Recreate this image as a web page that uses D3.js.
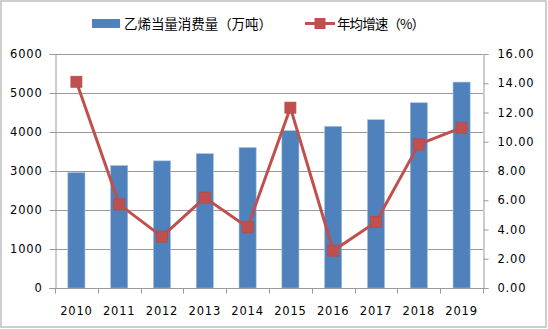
<!DOCTYPE html>
<html>
<head>
<meta charset="utf-8">
<script src="https://cdn.jsdelivr.net/npm/d3@7/dist/d3.min.js"></script>
<style>
  html, body { margin: 0; padding: 0; background: #fff; }
  svg { display: block; }
  text { font-family: "DejaVu Sans", sans-serif; fill: #000; }
</style>
</head>
<body>
<svg id="chart" width="548" height="329"></svg>
<script>
// Ethylene-equivalent consumption (10k tonnes) and annual growth rate (%)
const years = ["2010","2011","2012","2013","2014","2015","2016","2017","2018","2019"];
const consumption = [2960, 3140, 3260, 3445, 3600, 4035, 4145, 4315, 4750, 5280];
const growth = [14.10, 5.72, 3.51, 6.18, 4.15, 12.33, 2.55, 4.51, 9.82, 10.96];
const leftTicks = [0, 1000, 2000, 3000, 4000, 5000, 6000];
const rightTicks = [0, 2, 4, 6, 8, 10, 12, 14, 16];
const seriesNames = ["乙烯当量消费量（万吨）", "年均增速（%）"];

const barColor = "#4F81BD";
const lineColor = "#C0504D";
const gridColor = "#9a9a9a";

const svg = d3.select("#chart");
const W = 548, H = 329;
const plot = { left: 55, right: 483, top: 54, bottom: 288 };

// outer frame
svg.append("rect")
  .attr("x", 1).attr("y", 1).attr("width", W - 3).attr("height", H - 3)
  .attr("fill", "#fff").attr("stroke", "#bfbfbf").attr("stroke-width", 1.5);

const x = d3.scaleBand().domain(years).range([plot.left, plot.right]).paddingInner(0).paddingOuter(0);
const yL = d3.scaleLinear().domain([0, 6000]).range([plot.bottom, plot.top]);
const yR = d3.scaleLinear().domain([0, 16]).range([plot.bottom, plot.top]);

// horizontal gridlines
svg.append("g").selectAll("line").data(leftTicks.filter(d => d > 0)).join("line")
  .attr("x1", plot.left).attr("x2", plot.right)
  .attr("y1", d => Math.round(yL(d)) + 0.5).attr("y2", d => Math.round(yL(d)) + 0.5)
  .attr("stroke", gridColor).attr("stroke-width", 1);

// bars
const bw = x.bandwidth() * 0.4;
svg.append("g").selectAll("rect").data(years).join("rect")
  .attr("x", (d) => x(d) + (x.bandwidth() - bw) / 2)
  .attr("width", bw)
  .attr("y", (d, i) => yL(consumption[i]))
  .attr("height", (d, i) => plot.bottom - yL(consumption[i]))
  .attr("fill", barColor)
  .attr("stroke", "#a7c0de").attr("stroke-width", 0.6);

// left axis
const axL = svg.append("g").attr("transform", `translate(${plot.left + 0.5},0)`)
  .call(d3.axisLeft(yL).tickValues(leftTicks).tickSize(6).tickPadding(7).tickFormat(d3.format("d")));
// right axis
const axR = svg.append("g").attr("transform", `translate(${plot.right + 0.5},0)`)
  .call(d3.axisRight(yR).tickValues(rightTicks).tickSize(5).tickPadding(9).tickFormat(d3.format(".2f")));
// bottom axis with ticks at category boundaries
const boundaries = years.map(d => x(d)).concat([plot.right]);
const axB = svg.append("g").attr("transform", `translate(0,${plot.bottom + 0.5})`);
axB.append("line").attr("x1", plot.left).attr("x2", plot.right + 1).attr("stroke", gridColor);
axB.selectAll("line.tk").data(boundaries).join("line").attr("class", "tk")
  .attr("x1", d => Math.round(d) + 0.5).attr("x2", d => Math.round(d) + 0.5)
  .attr("y1", 0).attr("y2", 5).attr("stroke", gridColor);
axB.selectAll("text").data(years).join("text")
  .attr("x", d => x(d) + x.bandwidth() / 2).attr("y", 26)
  .attr("text-anchor", "middle").text(d => d);

[axL, axR].forEach(g => {
  g.select(".domain").attr("stroke", gridColor);
  g.selectAll(".tick line").attr("stroke", gridColor);
});
svg.selectAll("g text").style("font-size", "11.5px").style("letter-spacing", "0.8px");

// growth line with square markers
const line = d3.line().x((d, i) => x(years[i]) + x.bandwidth() / 2).y(d => yR(d));
svg.append("path").datum(growth)
  .attr("d", line).attr("fill", "none")
  .attr("stroke", lineColor).attr("stroke-width", 3).attr("stroke-linejoin", "round");
const ms = 11;
svg.append("g").selectAll("rect").data(growth).join("rect")
  .attr("x", (d, i) => x(years[i]) + x.bandwidth() / 2 - ms / 2)
  .attr("y", d => yR(d) - ms / 2)
  .attr("width", ms).attr("height", ms)
  .attr("fill", lineColor).attr("stroke", "#b54a47").attr("stroke-width", 0.8);

// legend
const lg = svg.append("g");
lg.append("rect").attr("x", 92).attr("y", 19).attr("width", 28).attr("height", 9).attr("fill", barColor);
lg.append("text").attr("x", 124).attr("y", 28.5).text(seriesNames[0])
  .attr("textLength", 148).attr("lengthAdjust", "spacing")
  .style("font-family", "'Noto Sans CJK SC', sans-serif").style("font-size", "13.5px");
lg.append("line").attr("x1", 305).attr("x2", 335).attr("y1", 23.5).attr("y2", 23.5)
  .attr("stroke", lineColor).attr("stroke-width", 3);
lg.append("rect").attr("x", 314.5).attr("y", 18).attr("width", 11).attr("height", 11).attr("fill", lineColor);
lg.append("text").attr("x", 337).attr("y", 28.5).text(seriesNames[1])
  .attr("textLength", 88).attr("lengthAdjust", "spacing")
  .style("font-family", "'Noto Sans CJK SC', sans-serif").style("font-size", "13.5px");
</script>
</body>
</html>
